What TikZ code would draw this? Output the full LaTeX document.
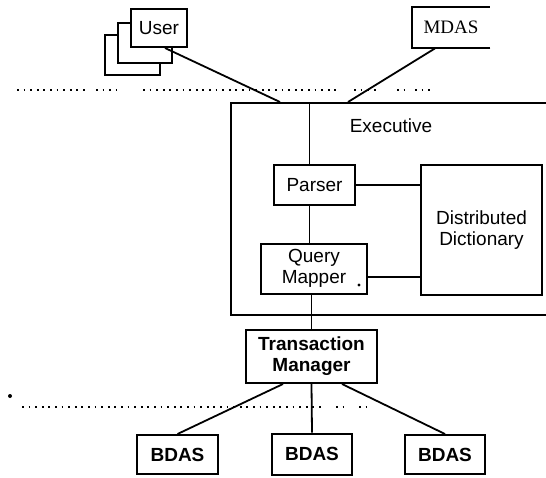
\documentclass[tikz,border=0pt]{standalone}
\usepackage{fontspec}
\setmainfont{Liberation Sans}
\newfontfamily\mdasfont{Liberation Serif}
\usetikzlibrary{positioning}

\begin{document}
\begin{tikzpicture}[x=0.5pt, y=-0.5pt,
		box/.style={draw, line width=1pt, fill=white, inner sep=0pt, align=center,
			font=\fontsize{9.5}{10.5}\selectfont},
		bbox/.style={box, font=\fontsize{9.5}{10.5}\selectfont\bfseries},
		link/.style={line width=0.9pt},
		border/.style={line width=0.9pt, dash pattern=on 0.9pt off 2.4pt}]
		\clip (0,0) rectangle (546,477);
		
		% stacked user terminals
		\node[box, minimum width=27.5pt, minimum height=20pt] (user3) at (132.5,55) {};
		\node[box, minimum width=27pt, minimum height=20pt] (user2) at (145,43) {};
		\node[box, minimum width=28pt, minimum height=19pt] (user) at (159,28) {User};
		
		\node[inner sep=0pt, minimum width=39pt, minimum height=20.5pt,
		font=\fontsize{9.5}{10.5}\mdasfont] (mdas) at (451,27.5) {MDAS};
		\draw[line width=1pt] (mdas.south east) -- (mdas.south west) -- (mdas.north west) -- (mdas.north east);
		
		% site boundaries
		\foreach \a/\b in {17/87, 96/117, 143/340, 354/380, 397/408, 415/430}
		\draw[border] (\a,90) -- (\b,90);
		\foreach \a/\b in {22/323, 336/345, 359/367}
		\draw[border] (\a,407) -- (\b,407);
		
		\node[draw, line width=1pt, minimum width=165pt, minimum height=106pt,
		anchor=north west] (exec) at (230,102) {};
		\node[font=\fontsize{9.5}{10.5}\selectfont] (execlabel) at (391,126) {Executive};
		
		\node[box, minimum width=40.5pt, minimum height=20pt] (parser) at (314.5,185) {Parser};
		\node[box, minimum width=53pt, minimum height=25pt] (qm) at (314,268.5) {Query\\Mapper};
		\node[box, minimum width=60.5pt, minimum height=65pt] (dd) at (481.5,230) {Distributed\\Dictionary};
		\node[bbox, minimum width=65.5pt, minimum height=26.5pt] (tm) at (311.5,356.5) {Transaction\\Manager};
		
		\node[bbox, minimum width=40.5pt, minimum height=19.5pt] (bdas1) at (177.5,454.5) {BDAS};
		\node[bbox, minimum width=40pt, minimum height=20.5pt] (bdas2) at (312,454) {BDAS};
		\node[bbox, minimum width=40pt, minimum height=19.5pt] (bdas3) at (445,454.5) {BDAS};
		
		\coordinate (userin) at (280,102);
		\coordinate (mdasin) at (348,102);
		\coordinate (spine) at (309.5,102);
		
		\draw[link] ([xshift=3pt]user.south) -- (userin);
		\draw[link] ([xshift=-8pt]mdas.south) -- (mdasin);
		\draw[link] (spine) -- (spine |- parser.north);
		\draw[link] (parser.south -| spine) -- (qm.north -| spine);
		\draw[link] (parser.east) -- (parser.east -| dd.west);
		\draw[link] ([yshift=-4.25pt]qm.east) -- ([yshift=-4.25pt]qm.east -| dd.west);
		\draw[link] (tm.north |- qm.south) -- (tm.north);
		\draw[link] ([xshift=-14.25pt]tm.south) -- (bdas1.north);
		\draw[link] (tm.south) -- (bdas2.north);
		\draw[link] ([xshift=15.25pt]tm.south) -- (bdas3.north);
		
		\fill (10,396) circle (1pt);
		\fill (359,285) circle (0.8pt);
	\end{tikzpicture}
\end{document}
